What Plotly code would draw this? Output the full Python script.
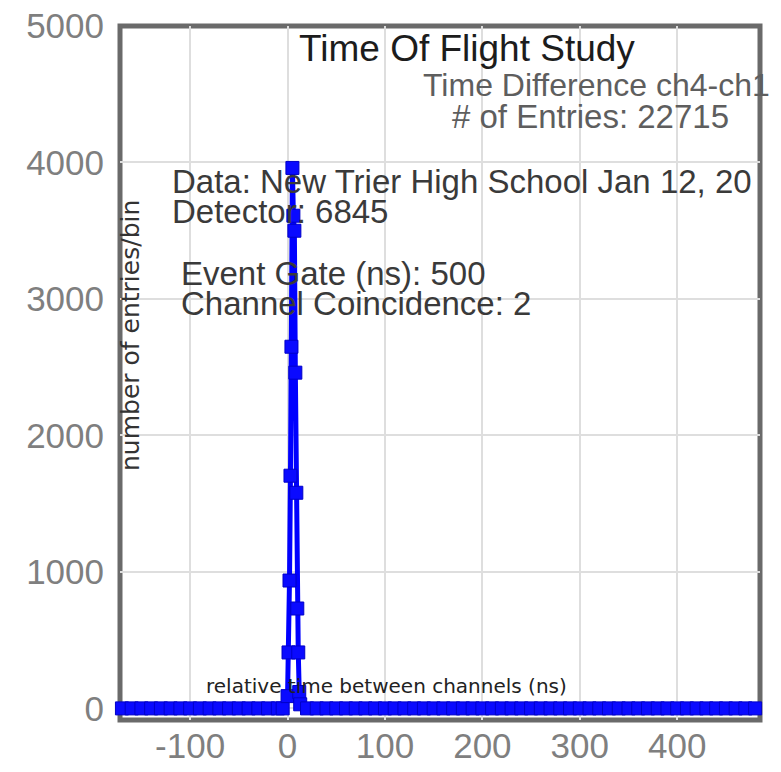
import plotly.graph_objects as go

# ---- data ----
left_tail_x = [-170, -160, -150, -140, -130, -120, -110, -100, -90, -80, -70, -60,
               -50, -40, -30, -20, -10, -5]
left_tail_y = [0, 0, 0, 0, 0, 0, 0, 0, 0, 0, 0, 0, 0, 0, 0, 0, 0, 0]

peak_x = [0, 1, 2, 3, 4, 5, 6, 7, 8, 9, 10, 11, 12, 13]
peak_y = [90, 410, 937, 1705, 2650, 3960, 3610, 3500, 2460, 1580, 732, 410, 120, 30]

right_tail_x = [20, 30, 40, 50, 60, 70, 80, 90, 100, 110, 120, 130, 140, 150, 160,
                170, 180, 190, 200, 210, 220, 230, 240, 250, 260, 270, 280, 290,
                300, 310, 320, 330, 340, 350, 360, 370, 380, 390, 400, 410, 420,
                430, 440, 450, 460, 470, 480]
right_tail_y = [0, 0, 0, 0, 0, 0, 0, 0, 0, 0, 0, 0, 0, 0, 0, 0, 0, 0, 0, 0, 0, 0,
                0, 0, 0, 0, 0, 0, 0, 0, 0, 0, 0, 0, 0, 0, 0, 0, 0, 0, 0, 0, 0, 0,
                0, 0, 0]

x_ticks = [-100, 0, 100, 200, 300, 400]
x_tick_labels = ["-100", "0", "100", "200", "300", "400"]
y_ticks = [0, 1000, 2000, 3000, 4000, 5000]
y_tick_labels = ["0", "1000", "2000", "3000", "4000", "5000"]

title_text = "Time Of Flight Study"
subtitle_lines = ["Time Difference ch4-ch1", "# of Entries: 22715"]
info_lines_a = ["Data: New Trier High School Jan 12, 20", "Detector: 6845"]
info_lines_b = ["Event Gate (ns): 500", "Channel Coincidence: 2"]
x_title = "relative time between channels (ns)"
y_title = "number of entries/bin"

xs = left_tail_x + peak_x + right_tail_x
ys = left_tail_y + peak_y + right_tail_y

# page has an 8px body margin; work in page pixels and shift
OFF = 8
PAGE_W, PAGE_H = 781, 772
W, H = PAGE_W - OFF, PAGE_H - OFF
plot_left, plot_right, plot_top, plot_bottom = 120, 760, 26, 720
L = plot_left - OFF
R = W - (plot_right - OFF)
T = plot_top - OFF
B = H - (plot_bottom - OFF)
pw, ph = W - L - R, H - T - B


def px(xp):
    return (xp - plot_left) / pw


def py(yp):
    return (plot_bottom - yp) / ph


fig = go.Figure()
fig.add_trace(go.Scatter(
    x=xs, y=ys, mode="lines+markers",
    line=dict(color="#0000ff", width=5),
    marker=dict(symbol="square", size=13, color="#0a0aff",
                line=dict(color="#0000c8", width=1)),
    cliponaxis=False, showlegend=False,
))

font_main = "Liberation Sans, Arial, sans-serif"
ann = []
ann.append(dict(text=title_text, x=px(467), y=py(48), font=dict(size=37, color="#1c1c1c")))
ann.append(dict(text=subtitle_lines[0], x=px(596), y=py(85), font=dict(size=32, color="#5e5e5e")))
ann.append(dict(text=subtitle_lines[1], x=px(590), y=py(117), font=dict(size=33, color="#5e5e5e")))
ann.append(dict(text=info_lines_a[0], x=px(170), y=py(182), xanchor="left", font=dict(size=33, color="#3a3a3a")))
ann.append(dict(text=info_lines_a[1], x=px(170), y=py(211), xanchor="left", font=dict(size=33, color="#3a3a3a")))
ann.append(dict(text=info_lines_b[0], x=px(179), y=py(273), xanchor="left", font=dict(size=33, color="#3a3a3a")))
ann.append(dict(text=info_lines_b[1], x=px(179), y=py(303), xanchor="left", font=dict(size=33, color="#3a3a3a")))
ann.append(dict(text=x_title, x=px(386), y=py(686), font=dict(size=20, color="#222222", family="DejaVu Sans")))
ann.append(dict(text=y_title, x=px(131), y=py(336), textangle=-90, font=dict(size=25, color="#333333", family="DejaVu Sans")))
for a in ann:
    a.setdefault("xanchor", "center")
    a.update(xref="paper", yref="paper", yanchor="middle", showarrow=False)
    a["font"].setdefault("family", font_main)

fig.update_layout(
    width=W, height=H,
    margin=dict(l=L, r=R, t=T, b=B, pad=0, autoexpand=False),
    paper_bgcolor="white", plot_bgcolor="white",
    annotations=ann,
    xaxis=dict(range=[-172, 485], tickvals=x_ticks, ticktext=x_tick_labels, ticks="",
               showline=False, zeroline=False, automargin=False, ticklabeloverflow="allow",
               showgrid=True, gridcolor="#dedede", gridwidth=2,
               tickfont=dict(size=35, color="#7f7f7f", family=font_main), ticklabelstandoff=2),
    yaxis=dict(range=[-85, 5000], tickvals=y_ticks, ticktext=y_tick_labels, ticks="",
               showline=False, zeroline=False, automargin=False, ticklabeloverflow="allow",
               showgrid=True, gridcolor="#dedede", gridwidth=2,
               tickfont=dict(size=35, color="#7f7f7f", family=font_main), ticklabelstandoff=15),
    shapes=[dict(type="rect", xref="paper", yref="paper", x0=0, x1=1, y0=0, y1=1,
                 line=dict(color="#6a6a6a", width=5), layer="below")],
)

fig.write_html("out.html")
